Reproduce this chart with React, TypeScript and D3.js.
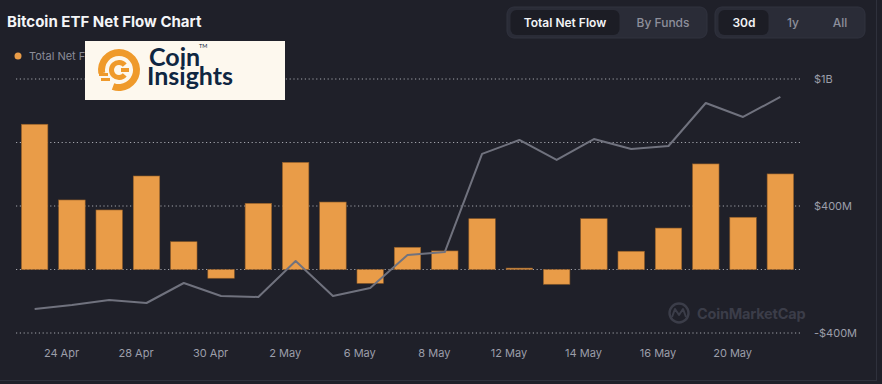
import { useMemo } from 'react'
import * as d3 from 'd3'

const WIDTH = 882
const HEIGHT = 384
const PLOT = { left: 16, right: 799, top: 79, bottom: 333 }

// trading days shown in the 30d view
const DATES = [
  '24 Apr', '26 Apr', '28 Apr', '29 Apr', '30 Apr', '1 May', '2 May', '3 May', '6 May', '7 May', '8 May',
  '9 May', '12 May', '13 May', '14 May', '15 May', '16 May', '17 May', '20 May', '21 May', '22 May',
]

// total net flow, $M
const NET_FLOW = [915, 438, 375, 589, 175, -55, 417, 675, 425, -87, 140, 117, 320, 9, -93, 320, 115, 261, 665, 329, 602]

// grey trend line
const TREND = [-249, -224, -192, -211, -85, -167, -173, 54, -167, -117, 91, 110, 728, 816, 690, 822, 759, 778, 1049, 961, 1087]

const GRID_VALUES = [-400, 0, 400, 800, 1200]
const GRID_LABELS = ['-$400M', '', '$400M', '', '$1B']

const BAR_COLOR = '#e99c48'
const BG = '#1f2029'
const FONT = 'Inter, "Noto Sans", sans-serif'

function Toggle({ x, width, items, activeWidth, centers }: {
  x: number; width: number; items: string[]; activeWidth: number; centers: number[]
}) {
  return (
    <g>
      <rect x={x} y={7} width={width} height={31} rx={7} fill="#2a2c37" stroke="#30323e" />
      <rect x={x + 3.5} y={10} width={activeWidth} height={25} rx={6} fill="#1c1d25" />
      {items.map((label, i) => (
        <text
          key={label}
          x={centers[i]}
          y={22.5}
          textAnchor="middle"
          dominantBaseline="central"
          fontSize={12}
          fontWeight={i === 0 ? 600 : 500}
          fill={i === 0 ? '#f2f3f5' : '#8d8f9b'}
        >
          {label}
        </text>
      ))}
    </g>
  )
}

export default function App() {
  const x = useMemo(() => d3.scaleBand<string>()
    .domain(DATES)
    .range([PLOT.left, PLOT.right])
    .paddingInner(0.29)
    .paddingOuter(0.145), [])

  const y = useMemo(() => d3.scaleLinear()
    .domain([-400, 1200])
    .range([PLOT.bottom, PLOT.top]), [])

  const cx = (d: string) => (x(d) ?? 0) + x.bandwidth() / 2

  const line = d3.line<number>()
    .x((_, i) => cx(DATES[i]))
    .y(d => y(d))

  const logoRing = d3.arc()({
    innerRadius: 14, outerRadius: 21,
    startAngle: -100 * Math.PI / 180, endAngle: 200 * Math.PI / 180,
  }) || ''
  const logoC = d3.arc()({
    innerRadius: 5, outerRadius: 10,
    startAngle: 130 * Math.PI / 180, endAngle: 410 * Math.PI / 180,
  }) || ''

  return (
    <div style={{ position: 'absolute', left: 0, top: 0 }}>
      <svg width={WIDTH} height={HEIGHT} style={{ display: 'block', fontFamily: FONT }}>
        <rect width={WIDTH} height={HEIGHT} fill={BG} />
        <line x1={876.5} x2={876.5} y1={0} y2={381} stroke="#2f313c" />
        <line x1={0} x2={877} y1={380.5} y2={380.5} stroke="#2f313c" />

        <text x={7} y={27} fontSize={15} fontWeight={700} fill="#f4f5f7">Bitcoin ETF Net Flow Chart</text>

        <Toggle x={507} width={200} items={['Total Net Flow', 'By Funds']} activeWidth={109} centers={[565, 663]} />
        <Toggle x={715} width={150} items={['30d', '1y', 'All']} activeWidth={50} centers={[744, 793, 840]} />

        {/* legend */}
        <circle cx={18} cy={56} r={3.5} fill={BAR_COLOR} />
        <text x={29} y={56} dominantBaseline="central" fontSize={11} fill="#8a8c98">Total Net Flow</text>

        {/* grid */}
        {GRID_VALUES.map(v => (
          <line
            key={v}
            x1={PLOT.left}
            x2={PLOT.right + 1}
            y1={y(v)}
            y2={y(v)}
            stroke="#cfd1d8"
            strokeWidth={1}
            strokeDasharray="1.2 2.6"
            opacity={0.75}
          />
        ))}
        {GRID_VALUES.map((v, i) => GRID_LABELS[i] && (
          <text key={`l-${v}`} x={814} y={y(v)} dominantBaseline="central" fontSize={11} fill="#9c9ea9">
            {GRID_LABELS[i]}
          </text>
        ))}

        {/* watermark */}
        <g opacity={0.9}>
          <circle cx={679} cy={313} r={9.5} fill="none" stroke="#3f414d" strokeWidth={2.4} />
          <path d="M672,317 L675,309 L679,315 L683,309 L686,317" fill="none" stroke="#3f414d" strokeWidth={2} strokeLinejoin="round" />
          <text x={697} y={319} fontSize={14.5} fontWeight={700} fill="#3f414d" letterSpacing={-0.2}>CoinMarketCap</text>
        </g>

        {/* bars */}
        {NET_FLOW.map((v, i) => (
          <rect
            key={DATES[i]}
            x={x(DATES[i])}
            width={x.bandwidth()}
            y={y(Math.max(0, v))}
            height={Math.abs(y(v) - y(0))}
            fill={BAR_COLOR}
            stroke="#8f5c28"
            strokeWidth={0.6}
          />
        ))}

        <path d={line(TREND) || ''} fill="none" stroke="#70727e" strokeWidth={2} strokeLinejoin="round" />

        {/* x labels */}
        {DATES.map((d, i) => (i % 2 === 0 && i < DATES.length - 1) ? (
          <text
            key={`x-${d}`}
            x={cx(d) + x.step() * 0.72}
            y={353}
            textAnchor="middle"
            dominantBaseline="central"
            fontSize={11}
            fill="#9c9ea9"
          >
            {d}
          </text>
        ) : null)}

        {/* Coin Insights badge */}
        <rect x={85} y={41} width={200} height={59} fill="#fdf8ee" />
        <g transform="translate(119,70)">
          <path d={logoRing} fill="#ef9a2b" />
          <path d={logoC} fill="#ef9a2b" />
          <rect x={2} y={-2} width={8} height={4} fill="#ef9a2b" />
          <rect x={-20} y={3} width={9} height={3} fill="#ef9a2b" />
          <rect x={-18} y={8} width={9} height={3} fill="#ef9a2b" />
        </g>
        <text x={149} y={66} fontSize={25} fontWeight={700} fill="#0f2641" fontFamily="Lato, sans-serif">Coin</text>
        <text x={147} y={85} fontSize={25} fontWeight={700} fill="#0f2641" fontFamily="Lato, sans-serif">Insights</text>
        <text x={199} y={48} fontSize={5.5} fill="#0f2641" fontFamily="Lato, sans-serif">TM</text>
      </svg>
    </div>
  )
}
